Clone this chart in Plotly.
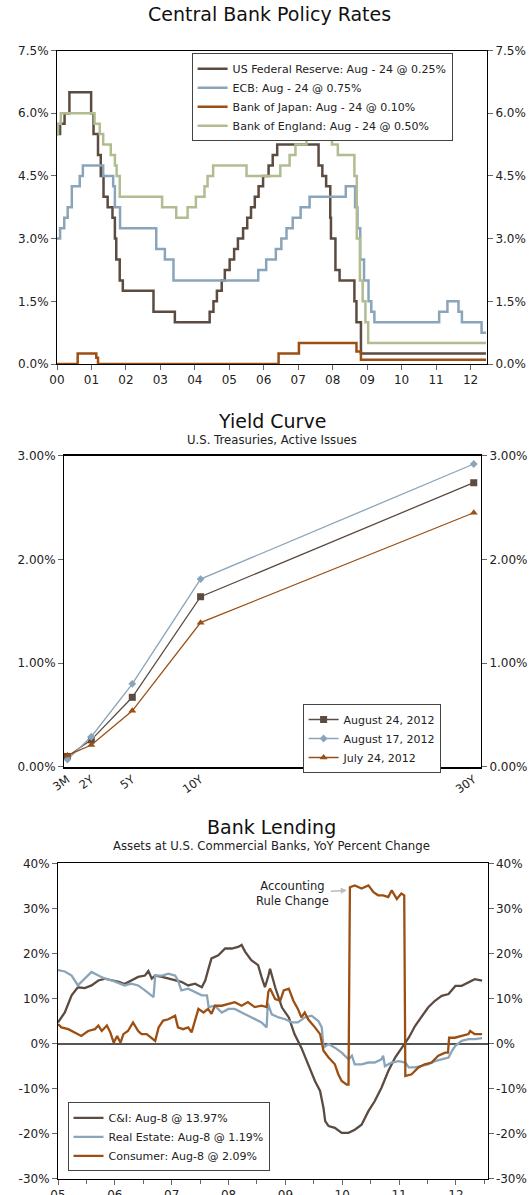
import plotly.graph_objects as go

FONT = "DejaVu Sans"

# ---------------- Central Bank Policy Rates (step positions on the year axis, rate %) ----------------
fed_t = [2000.00, 2000.09, 2000.22, 2000.36, 2000.99, 2001.06, 2001.19, 2001.27, 2001.35, 2001.47,
         2001.61, 2001.68, 2001.72, 2001.82, 2001.91, 2002.80, 2003.42, 2004.43, 2004.54, 2004.64,
         2004.78, 2004.87, 2005.01, 2005.14, 2005.25, 2005.40, 2005.52, 2005.63, 2005.74, 2005.85,
         2005.98, 2006.14, 2006.26, 2006.39, 2007.59, 2007.70, 2007.81, 2007.93, 2007.95, 2008.08,
         2008.20, 2008.63, 2008.69, 2008.82, 2012.45]
fed_r = [5.5, 5.75, 6.0, 6.5, 6.0, 5.5, 5.0, 4.5, 4.0, 3.75,
         3.5, 3.0, 2.5, 2.0, 1.75, 1.25, 1.0, 1.25, 1.5, 1.75,
         2.0, 2.25, 2.5, 2.75, 3.0, 3.25, 3.5, 3.75, 4.0, 4.25,
         4.5, 4.75, 5.0, 5.25, 4.75, 4.5, 4.25, 3.5, 3.0, 2.25,
         2.0, 1.5, 1.0, 0.25, 0.25]

ecb_t = [2000.00, 2000.09, 2000.21, 2000.31, 2000.43, 2000.66, 2000.75, 2001.34, 2001.63, 2001.68,
         2001.83, 2002.88, 2003.13, 2003.38, 2005.84, 2006.07, 2006.35, 2006.51, 2006.66, 2006.84,
         2007.07, 2007.33, 2008.38, 2008.65, 2008.72, 2008.80, 2008.91, 2009.04, 2009.12, 2009.21,
         2011.09, 2011.33, 2011.65, 2011.75, 2012.32, 2012.45]
ecb_r = [3.0, 3.25, 3.5, 3.75, 4.25, 4.5, 4.75, 4.5, 4.25, 3.75,
         3.25, 2.75, 2.5, 2.0, 2.25, 2.5, 2.75, 3.0, 3.25, 3.5,
         3.75, 4.0, 4.25, 3.75, 3.25, 2.5, 2.0, 1.5, 1.25, 1.0,
         1.25, 1.5, 1.25, 1.0, 0.75, 0.75]

boj_t = [2000.00, 2000.60, 2001.14, 2001.19, 2006.43, 2007.02, 2008.69, 2008.82, 2012.45]
boj_r = [0.0, 0.25, 0.15, 0.0, 0.25, 0.5, 0.3, 0.1, 0.1]

boe_t = [2000.00, 2000.03, 2000.11, 2001.09, 2001.24, 2001.34, 2001.56, 2001.68, 2001.73, 2001.82,
         2003.05, 2003.46, 2003.79, 2004.03, 2004.28, 2004.37, 2004.53, 2005.50, 2006.48, 2006.75,
         2006.92, 2007.24, 2007.40, 2007.81, 2007.98, 2008.15, 2008.63, 2008.70, 2008.79, 2008.87,
         2008.95, 2009.03, 2012.45]
boe_r = [5.5, 5.75, 6.0, 5.75, 5.5, 5.25, 5.0, 4.75, 4.5, 4.0,
         3.75, 3.5, 3.75, 4.0, 4.25, 4.5, 4.75, 4.5, 4.75, 5.0,
         5.25, 5.5, 5.75, 5.5, 5.25, 5.0, 4.5, 3.0, 2.0, 1.5,
         1.0, 0.5, 0.5]

cb_labels = ["US Federal Reserve: Aug - 24 @ 0.25%", "ECB: Aug - 24 @ 0.75%",
             "Bank of Japan: Aug - 24 @ 0.10%", "Bank of England: Aug - 24 @ 0.50%"]
cb_years = list(range(2000, 2013))
cb_year_labels = ["%02d" % (y - 2000) for y in cb_years]
cb_ticks = [0, 1.5, 3.0, 4.5, 6.0, 7.5]

# ---------------- Yield Curve ----------------
maturities = [0.25, 2, 5, 10, 30]
maturity_labels = ["3M", "2Y", "5Y", "10Y", "30Y"]
yc_aug24 = [0.10, 0.26, 0.67, 1.64, 2.74]
yc_aug17 = [0.07, 0.29, 0.80, 1.81, 2.92]
yc_jul24 = [0.11, 0.21, 0.54, 1.39, 2.45]
yc_labels = ["August 24, 2012", "August 17, 2012", "July 24, 2012"]
yc_ticks = [0, 1, 2, 3]

# ---------------- Bank Lending (position on the year axis, YoY %) ----------------
ci_t = [2005.00, 2005.12, 2005.24, 2005.35, 2005.47, 2005.59, 2005.71, 2005.83, 2005.95, 2006.07,
        2006.17, 2006.29, 2006.41, 2006.53, 2006.59, 2006.65, 2006.71, 2006.83, 2006.94, 2007.06,
        2007.17, 2007.29, 2007.41, 2007.53, 2007.59, 2007.64, 2007.70, 2007.82, 2007.94, 2008.06,
        2008.18, 2008.23, 2008.29, 2008.40, 2008.52, 2008.58, 2008.64, 2008.70, 2008.73, 2008.82,
        2008.94, 2009.06, 2009.16, 2009.28, 2009.40, 2009.52, 2009.61, 2009.67, 2009.70, 2009.76,
        2009.87, 2009.99, 2010.11, 2010.22, 2010.34, 2010.46, 2010.57, 2010.69, 2010.81, 2010.93,
        2011.05, 2011.17, 2011.28, 2011.39, 2011.51, 2011.63, 2011.75, 2011.87, 2011.99, 2012.10,
        2012.22, 2012.33, 2012.46]
ci_v = [4.7, 6.9, 10.7, 12.5, 12.3, 12.9, 14.0, 14.4, 14.0, 13.7,
        13.2, 14.0, 14.8, 15.1, 16.1, 14.4, 15.1, 14.8, 14.4, 14.0,
        13.7, 12.9, 13.3, 12.5, 14.0, 16.3, 18.9, 19.6, 21.1, 21.1,
        21.5, 21.9, 20.4, 18.5, 17.4, 14.8, 12.5, 15.0, 16.6, 12.5,
        8.0, 5.8, 2.1, -0.9, -4.6, -8.3, -10.5, -14.3, -17.2, -18.3,
        -18.7, -19.8, -19.8, -19.1, -18.0, -15.0, -12.8, -9.8, -6.1, -3.1,
        -0.9, 1.3, 3.9, 5.8, 8.0, 9.5, 10.6, 11.0, 12.8, 12.8,
        13.6, 14.3, 13.97]

re_t = [2005.00, 2005.12, 2005.24, 2005.35, 2005.47, 2005.59, 2005.71, 2005.83, 2005.95, 2006.07,
        2006.17, 2006.29, 2006.41, 2006.53, 2006.68, 2006.71, 2006.83, 2006.94, 2007.06, 2007.11,
        2007.17, 2007.29, 2007.41, 2007.53, 2007.62, 2007.65, 2007.76, 2007.88, 2008.00, 2008.11,
        2008.23, 2008.34, 2008.46, 2008.58, 2008.67, 2008.69, 2008.76, 2008.88, 2009.00, 2009.11,
        2009.22, 2009.34, 2009.46, 2009.58, 2009.64, 2009.67, 2009.76, 2009.87, 2009.99, 2010.11,
        2010.17, 2010.22, 2010.34, 2010.46, 2010.57, 2010.69, 2010.72, 2010.75, 2010.87, 2010.99,
        2011.11, 2011.17, 2011.28, 2011.39, 2011.51, 2011.63, 2011.75, 2011.87, 2011.93, 2011.99,
        2012.10, 2012.22, 2012.33, 2012.46]
re_v = [16.3, 16.0, 15.1, 12.9, 14.4, 15.9, 15.1, 14.4, 14.0, 13.3,
        12.9, 13.3, 12.9, 11.8, 10.3, 15.1, 15.1, 15.5, 15.1, 14.0,
        11.8, 12.2, 11.4, 10.7, 10.7, 8.1, 8.4, 6.9, 7.7, 7.7,
        6.9, 6.2, 5.4, 4.7, 3.6, 9.0, 6.5, 5.8, 5.4, 4.7,
        4.7, 5.8, 6.2, 5.0, 3.6, -0.9, -0.1, -0.9, -2.0, -3.5,
        -2.7, -4.6, -4.6, -4.2, -4.2, -3.5, -2.7, -5.0, -4.2, -3.9,
        -4.2, -5.3, -5.3, -5.0, -4.6, -3.9, -3.5, -3.1, -1.6, -0.5,
        0.6, 1.0, 1.0, 1.19]

cons_t = [2005.00, 2005.06, 2005.18, 2005.30, 2005.41, 2005.53, 2005.65, 2005.71, 2005.77, 2005.86,
          2005.92, 2005.98, 2006.04, 2006.10, 2006.15, 2006.23, 2006.32, 2006.41, 2006.47, 2006.56,
          2006.65, 2006.71, 2006.77, 2006.85, 2006.94, 2007.06, 2007.11, 2007.20, 2007.29, 2007.35,
          2007.41, 2007.47, 2007.56, 2007.64, 2007.70, 2007.76, 2007.88, 2008.00, 2008.11, 2008.23,
          2008.34, 2008.46, 2008.58, 2008.67, 2008.70, 2008.73, 2008.82, 2008.91, 2008.97, 2009.06,
          2009.14, 2009.22, 2009.28, 2009.34, 2009.40, 2009.52, 2009.61, 2009.67, 2009.76, 2009.87,
          2009.93, 2009.99, 2010.08, 2010.11, 2010.135, 2010.22, 2010.34, 2010.46, 2010.55, 2010.63,
          2010.72, 2010.81, 2010.87, 2010.96, 2011.04, 2011.09, 2011.11, 2011.22, 2011.34, 2011.45,
          2011.57, 2011.69, 2011.81, 2011.86, 2011.88, 2011.98, 2012.10, 2012.22, 2012.25, 2012.33,
          2012.46]
cons_v = [4.3, 3.6, 3.2, 2.5, 1.7, 2.8, 3.2, 4.0, 2.8, 4.0,
          2.5, 0.2, 1.7, 0.2, 2.1, 2.8, 4.7, 2.8, 2.1, 2.1,
          1.3, 0.6, 3.6, 5.1, 5.4, 6.2, 3.6, 3.2, 3.6, 2.5,
          5.1, 7.7, 6.9, 7.7, 6.6, 8.4, 8.4, 8.8, 9.2, 8.4,
          9.2, 8.1, 8.4, 8.1, 11.5, 12.2, 9.9, 9.5, 11.8, 12.2,
          9.5, 7.7, 5.8, 6.9, 5.4, 3.6, 2.1, -1.6, -3.1, -4.6,
          -6.8, -8.3, -9.1, -9.1, 34.7, 35.1, 34.4, 35.1, 33.6, 32.9,
          32.9, 32.5, 34.0, 32.1, 33.3, 32.9, -7.2, -6.8, -5.3, -4.6,
          -4.2, -2.7, -2.0, -2.0, 1.3, 1.3, 1.7, 2.1, 2.8, 2.1,
          2.09]

bl_labels = ["C&I: Aug-8 @ 13.97%", "Real Estate: Aug-8 @ 1.19%", "Consumer: Aug-8 @ 2.09%"]
bl_years = list(range(2005, 2013))
bl_year_labels = ["%02d" % (y - 2000) for y in bl_years]
bl_ticks = [-30, -20, -10, 0, 10, 20, 30, 40]
bl_tick_labels = ["%d%%" % v for v in bl_ticks]

# ---------------- styling ----------------
C_DARK = "#5b4b41"
C_BLUE = "#8aa5b9"
C_ORANGE = "#9c4f12"
C_GREEN = "#b1bd91"
TXT = "#222222"
W, H = 529, 1195

def px_x(p):
    return p / W

def px_y(p):
    return 1 - p / H

fig = go.Figure()

for t, r, c, name in [(fed_t, fed_r, C_DARK, cb_labels[0]), (ecb_t, ecb_r, C_BLUE, cb_labels[1]),
                      (boj_t, boj_r, C_ORANGE, cb_labels[2]), (boe_t, boe_r, C_GREEN, cb_labels[3])]:
    fig.add_trace(go.Scatter(x=t, y=r, mode="lines", name=name,
                             line=dict(color=c, width=2.5, shape="hv"),
                             xaxis="x", yaxis="y", legend="legend"))

for v, c, sym, sz, name in [(yc_aug24, C_DARK, "square", 7, yc_labels[0]),
                            (yc_aug17, C_BLUE, "diamond", 6, yc_labels[1]),
                            (yc_jul24, C_ORANGE, "triangle-up", 7, yc_labels[2])]:
    fig.add_trace(go.Scatter(x=maturities, y=v, mode="lines+markers", name=name,
                             line=dict(color=c, width=1.3),
                             marker=dict(symbol=sym, size=sz, color=c),
                             xaxis="x2", yaxis="y2", legend="legend2"))

for t, v, c, name in [(ci_t, ci_v, C_DARK, bl_labels[0]), (re_t, re_v, C_BLUE, bl_labels[1]),
                      (cons_t, cons_v, C_ORANGE, bl_labels[2])]:
    fig.add_trace(go.Scatter(x=t, y=v, mode="lines", name=name,
                             line=dict(color=c, width=2.3),
                             xaxis="x3", yaxis="y3", legend="legend3"))

# placeholders (no visible mark) so the mirrored right-hand axes get drawn
for xa, ya, x0 in [("x", "y4", cb_years[0]), ("x2", "y5", maturities[0]), ("x3", "y6", bl_years[0])]:
    fig.add_trace(go.Scatter(x=[x0], y=[None], mode="lines", xaxis=xa, yaxis=ya,
                             showlegend=False, hoverinfo="skip"))

tickfont = dict(family=FONT, size=12, color=TXT)

def yax(domain, rng, tickvals, ticktext, anchor, zeroline=False):
    return dict(domain=domain, range=rng, tickvals=tickvals, ticktext=ticktext,
                showgrid=False, zeroline=zeroline, zerolinecolor="#555555", zerolinewidth=1.5,
                showline=True, linecolor="#000000", linewidth=1,
                ticks="outside", ticklen=5, tickcolor="#666666", tickfont=tickfont,
                anchor=anchor, fixedrange=True)

def yax_right(base, rng, tickvals, ticktext, anchor):
    return dict(overlaying=base, side="right", range=rng, tickvals=tickvals, ticktext=ticktext,
                showgrid=False, zeroline=False, showline=True,
                linecolor="#000000", linewidth=1, ticks="outside", ticklen=5,
                tickcolor="#666666", tickfont=tickfont, anchor=anchor, fixedrange=True)

cb_tt = ["%.1f%%" % v for v in cb_ticks]
yc_tt = ["%.2f%%" % v for v in yc_ticks]

top_y = [px_y(364), px_y(50.5)]
mid_y = [px_y(766.8), px_y(455.7)]
bot_y = [px_y(1178.8), px_y(863.3)]

fig.update_layout(
    width=W, height=H,
    margin=dict(l=0, r=0, t=0, b=0, autoexpand=False),
    paper_bgcolor="white", plot_bgcolor="white",
    font=dict(family=FONT, color=TXT, size=12),
    xaxis=dict(domain=[px_x(57), px_x(487)], range=[2000, 2012.478], tickvals=cb_years,
               ticktext=cb_year_labels, showgrid=False, zeroline=False, showline=True,
               linecolor="#000000", linewidth=1, mirror=True, ticks="outside", ticklen=5,
               tickcolor="#666666", tickfont=tickfont, anchor="y", fixedrange=True),
    yaxis=yax(top_y, [0, 7.5], cb_ticks, cb_tt, "x"),
    yaxis4=yax_right("y", [0, 7.5], cb_ticks, cb_tt, "x"),
    xaxis2=dict(domain=[px_x(64), px_x(481)], range=[0, 30.53], tickvals=maturities,
                ticktext=maturity_labels, tickangle=-35, showgrid=False, zeroline=False,
                showline=True, linecolor="#000000", linewidth=1.5, mirror=True, ticks="",
                tickfont=dict(family=FONT, size=11.5, color=TXT), anchor="y2", fixedrange=True),
    yaxis2=yax(mid_y, [0, 3], yc_ticks, yc_tt, "x2"),
    yaxis5=yax_right("y2", [0, 3], yc_ticks, yc_tt, "x2"),
    xaxis3=dict(domain=[px_x(58), px_x(487.5)], range=[2005, 2012.555], tickvals=bl_years,
                ticktext=bl_year_labels, showgrid=False, zeroline=False, showline=True,
                linecolor="#000000", linewidth=1, mirror=True, ticks="outside", ticklen=5,
                tickcolor="#666666", tickfont=tickfont, anchor="y3", fixedrange=True,
                minor=dict(dtick=0.5, tick0=2005, ticks="outside", ticklen=4, tickcolor="#666666")),
    yaxis3=yax(bot_y, [-30, 40], bl_ticks, bl_tick_labels, "x3", zeroline=True),
    yaxis6=yax_right("y3", [-30, 40], bl_ticks, bl_tick_labels, "x3"),
    legend=dict(x=px_x(191.6), y=px_y(53.3), xanchor="left", yanchor="top",
                bgcolor="white", bordercolor="#444444", borderwidth=1,
                font=dict(family=FONT, size=11, color=TXT), tracegroupgap=0),
    legend2=dict(x=px_x(302.6), y=px_y(704), xanchor="left", yanchor="top",
                 bgcolor="white", bordercolor="#444444", borderwidth=1,
                 font=dict(family=FONT, size=11, color=TXT), tracegroupgap=0),
    legend3=dict(x=px_x(67.5), y=px_y(1171.4), xanchor="left", yanchor="bottom",
                 bgcolor="white", bordercolor="#444444", borderwidth=1,
                 font=dict(family=FONT, size=11, color=TXT), tracegroupgap=0),
    showlegend=True,
)

annotations = [
    dict(text="Central Bank Policy Rates", x=px_x(269), y=px_y(14), xref="paper", yref="paper",
         showarrow=False, font=dict(family=FONT, size=19, color="#111111"), yanchor="middle"),
    dict(text="Yield Curve", x=px_x(271.5), y=px_y(420.5), xref="paper", yref="paper",
         showarrow=False, font=dict(family=FONT, size=19, color="#111111"), yanchor="middle"),
    dict(text="U.S. Treasuries, Active Issues", x=px_x(271.5), y=px_y(440), xref="paper",
         yref="paper", showarrow=False, font=dict(family=FONT, size=11.7, color=TXT),
         yanchor="middle"),
    dict(text="Bank Lending", x=px_x(271), y=px_y(827.5), xref="paper", yref="paper",
         showarrow=False, font=dict(family=FONT, size=19, color="#111111"), yanchor="middle"),
    dict(text="Assets at U.S. Commercial Banks, YoY Percent Change", x=px_x(271.3), y=px_y(846),
         xref="paper", yref="paper", showarrow=False, font=dict(family=FONT, size=11.7, color=TXT),
         yanchor="middle"),
    dict(text="Accounting<br>Rule Change", x=2010.08, y=34.0, xref="x3", yref="y3",
         showarrow=True, ax=-54, ay=3, arrowhead=2, arrowsize=0.8, arrowwidth=1.5,
         arrowcolor="#bbbbbb", align="center", font=dict(family=FONT, size=11.5, color=TXT)),
]
fig.update_layout(annotations=annotations)

fig.write_html("out.html", config={"displayModeBar": False},
               post_script="document.body.style.margin='0';document.body.style.overflow='hidden';")
